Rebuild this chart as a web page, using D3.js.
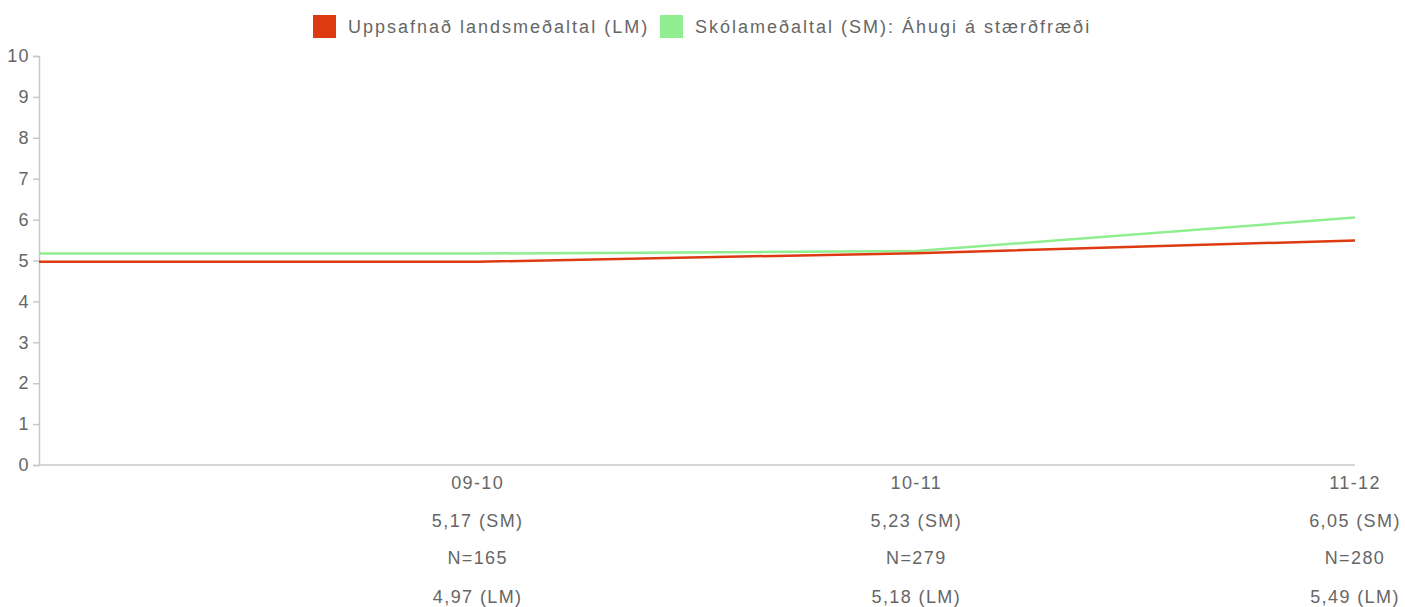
<!DOCTYPE html>
<html>
<head>
<meta charset="utf-8">
<script src="https://cdn.jsdelivr.net/npm/d3@7"></script>
<style>
  html, body { margin: 0; padding: 0; background: #fff; }
  svg text { font-family: "Liberation Sans", Arial, Helvetica, sans-serif; fill: #666; }
</style>
</head>
<body>
<svg id="chart" width="1405" height="607"></svg>
<script>
// ---- data ----
const categories = ["09-10", "10-11", "11-12"];
const smValues = [5.17, 5.23, 6.05];   // Skólameðaltal (SM)
const lmValues = [4.97, 5.18, 5.49];   // Uppsafnað landsmeðaltal (LM)
const nValues = [165, 279, 280];
const yTicks = [0, 1, 2, 3, 4, 5, 6, 7, 8, 9, 10];
const seriesNames = ["Uppsafnað landsmeðaltal (LM)", "Skólameðaltal (SM): Áhugi á stærðfræði"];
const seriesColors = ["#dd3a12", "#90ee90"];

const fmt = v => v.toFixed(2).replace(".", ",");

const svg = d3.select("#chart");
const W = 1405;
const margin = { left: 39, right: 50, top: 56, bottom: 142 };
const plotW = W - margin.left - margin.right;
const plotH = 607 - margin.top - margin.bottom;

// leading blank slot at the axis origin, then the categories
const x = d3.scalePoint().domain(["", ...categories]).range([margin.left, margin.left + plotW]);
const y = d3.scaleLinear().domain([0, 10]).range([margin.top + plotH, margin.top]);

const FS = 18, LS = "1.4px";

// y axis
const yAxis = d3.axisLeft(y).tickValues(yTicks).tickSize(6).tickPadding(3);
const gy = svg.append("g").attr("transform", `translate(${margin.left},0)`).call(yAxis);
gy.select(".domain").attr("stroke", "#c8c8c8").attr("stroke-width", 1.5);
gy.selectAll(".tick line").attr("stroke", "#c8c8c8").attr("stroke-width", 1.5);
gy.selectAll(".tick text").attr("font-size", FS).style("letter-spacing", LS).attr("fill", "#666")
  .style("font-family", '"Liberation Sans", Arial, sans-serif');

// x axis line
svg.append("line")
  .attr("x1", x.range()[0]).attr("x2", x.range()[1])
  .attr("y1", y(0)).attr("y2", y(0))
  .attr("stroke", "#c8c8c8").attr("stroke-width", 1.5);

// lines
const lineGen = d3.line().x(d => d[0]).y(d => d[1]);
function pts(vals) {
  return [[x(""), y(vals[0])], ...categories.map((c, i) => [x(c), y(vals[i])])];
}
svg.append("path").attr("d", lineGen(pts(smValues)))
  .attr("fill", "none").attr("stroke", seriesColors[1]).attr("stroke-width", 2.5);
svg.append("path").attr("d", lineGen(pts(lmValues)))
  .attr("fill", "none").attr("stroke", seriesColors[0]).attr("stroke-width", 2.5);

// category labels under axis
const rows = [
  (c, i) => c,
  (c, i) => fmt(smValues[i]) + " (SM)",
  (c, i) => "N=" + nValues[i],
  (c, i) => fmt(lmValues[i]) + " (LM)"
];
const rowY = [483, 521, 558, 597];
const maxRight = 1401;
categories.forEach((c, i) => {
  rows.forEach((fn, r) => {
    const t = svg.append("text")
      .attr("x", x(c)).attr("y", rowY[r])
      .attr("dy", "0.35em")
      .attr("text-anchor", "middle")
      .attr("font-size", FS).style("letter-spacing", LS)
      .text(fn(c, i));
    const bb = t.node().getBBox();
    if (bb.x + bb.width > maxRight) {
      t.attr("x", x(c) - (bb.x + bb.width - maxRight));
    }
  });
});

// legend
const legendX = [313, 660];
seriesNames.forEach((name, i) => {
  svg.append("rect").attr("x", legendX[i]).attr("y", 15).attr("width", 23).attr("height", 23)
    .attr("fill", seriesColors[i]);
  svg.append("text").attr("x", legendX[i] + 35).attr("y", 27).attr("dy", "0.35em")
    .attr("font-size", FS).style("letter-spacing", "2px").text(name);
});
</script>
</body>
</html>
